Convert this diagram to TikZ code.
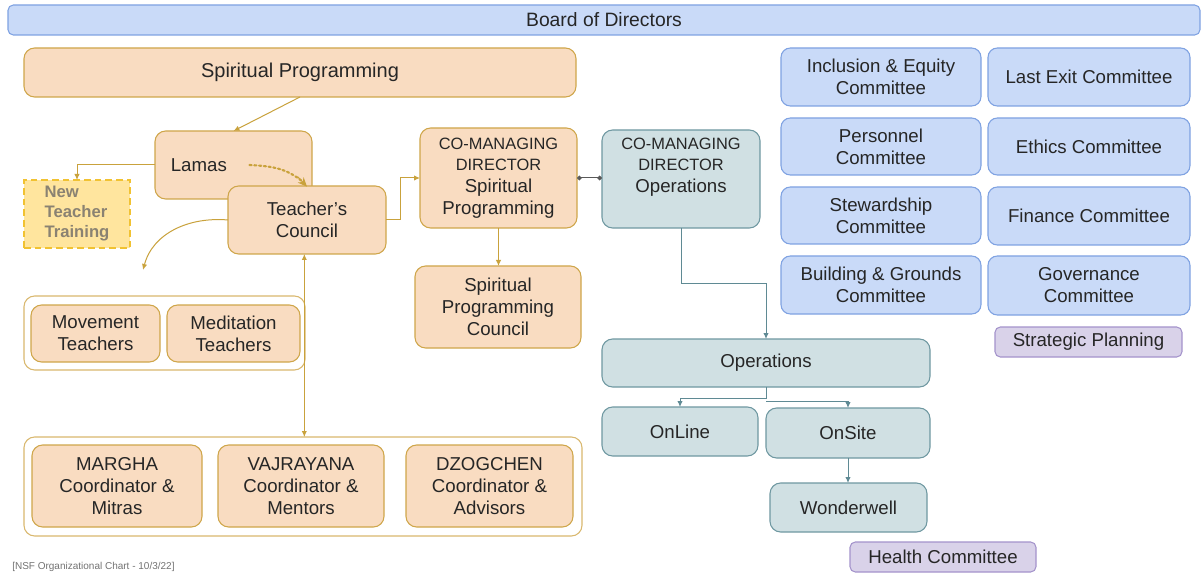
\documentclass[tikz,border=0pt]{standalone}
\usepackage{fontspec}
\setmainfont{Liberation Sans}
\usetikzlibrary{arrows.meta}
\definecolor{bluef}{HTML}{C9DAF8}
\definecolor{blued}{HTML}{7FA2E2}
\definecolor{peachf}{HTML}{F9DCC1}
\definecolor{peachd}{HTML}{CFA64A}
\definecolor{tealf}{HTML}{D0E0E3}
\definecolor{teald}{HTML}{6F98A1}
\definecolor{purpf}{HTML}{D9D2E9}
\definecolor{purpd}{HTML}{A493CB}
\definecolor{yelf}{HTML}{FFE59E}
\definecolor{yeld}{HTML}{F1C232}
\definecolor{ntttext}{HTML}{8A8272}
\definecolor{txt}{HTML}{262626}
\definecolor{gline}{HTML}{C9A23C}
\definecolor{tline}{HTML}{5F8A94}
\tikzset{
  base/.style={inner sep=0pt, outer sep=0pt, align=center, text=txt, line width=0.8pt,
     font=\fontsize{14}{16.5}\selectfont},
  bluebox/.style={base, fill=bluef, draw=blued, rounded corners=7pt},
  peachbox/.style={base, fill=peachf, draw=peachd, rounded corners=8pt},
  tealbox/.style={base, fill=tealf, draw=teald, rounded corners=8pt},
  purpbox/.style={base, fill=purpf, draw=purpd, rounded corners=4pt},
  groupbox/.style={base, fill=white, draw=peachd!80, rounded corners=8pt},
  ntt/.style={base, fill=yelf, draw=yeld, dashed, dash pattern=on 5pt off 3pt, line width=1.2pt,
     text=ntttext, align=left, font=\fontsize{12.5}{15}\selectfont\bfseries},
  plaintext/.style={inner sep=0pt, outer sep=0pt, align=center, text=txt},
  gcon/.style={draw=gline, line width=0.75pt},
  tcon/.style={draw=tline, line width=0.75pt},
  tipa/.style={-{Latex[length=4.5pt,width=4pt]}},
  dot/.style={{Circle[length=3.5pt]}-},
}
\newcommand\bx[7]{\node[#6, minimum width={(#4-#2)*0.75pt}, minimum height={(#5-#3)*0.75pt}] (#1) at ({(#2+#4)/2},{(#3+#5)/2}) {#7};}
\begin{document}
\begin{tikzpicture}[x=0.75pt,y=-0.75pt]
\fill[white] (0,0) rectangle (1204,574);
\useasboundingbox (0,0) rectangle (1204,574);
% Board
\bx{board}{8}{5}{1200}{35}{bluebox, rounded corners=4pt, font=\fontsize{14.5}{16}\selectfont}{Board of Directors}
% Spiritual programming side
\bx{sp}{24}{48}{576}{97}{peachbox, font=\fontsize{15}{17}\selectfont}{Spiritual Programming}
\bx{lamas}{155}{131}{312}{199}{peachbox}{Lamas\hspace*{52pt}}
\bx{tc}{228}{186}{386}{254}{peachbox}{Teacher's\\Council}
\bx{ntt}{24}{180}{130}{248}{ntt}{New\\Teacher\\Training}
\bx{g1}{24}{296}{305}{370}{groupbox}{}
\bx{mov}{31}{305}{160}{362}{peachbox}{Movement\\Teachers}
\bx{med}{167}{305}{300}{362}{peachbox}{Meditation\\Teachers}
\bx{g2}{24}{437}{582}{536}{groupbox}{}
\bx{margha}{32}{445}{202}{527}{peachbox}{MARGHA\\Coordinator \&\\Mitras}
\bx{vajra}{218}{445}{384}{527}{peachbox}{VAJRAYANA\\Coordinator \&\\Mentors}
\bx{dzog}{406}{445}{573}{527}{peachbox}{DZOGCHEN\\Coordinator \&\\Advisors}
\bx{comsp}{420}{128}{577}{228}{peachbox}{{\fontsize{12.3}{15}\selectfont CO-MANAGING}\\[-1pt]{\fontsize{12.3}{15}\selectfont DIRECTOR}\\Spiritual\\Programming}
\bx{spc}{415}{266}{581}{348}{peachbox}{Spiritual\\Programming\\Council}
% Operations side
\bx{comops}{602}{130}{760}{228}{tealbox}{}
\node[plaintext, font=\fontsize{14}{16.5}\selectfont] (comopsT) at (681,167) {{\fontsize{12.3}{15}\selectfont CO-MANAGING}\\[-1pt]{\fontsize{12.3}{15}\selectfont DIRECTOR}\\Operations};
\bx{ops}{602}{339}{930}{387}{tealbox}{Operations}
\bx{online}{602}{407}{758}{456}{tealbox}{OnLine}
\bx{onsite}{766}{408}{930}{458}{tealbox}{OnSite}
\bx{wonder}{770}{483}{927}{532}{tealbox}{Wonderwell}
\bx{health}{850}{542}{1036}{572}{purpbox}{Health Committee}
% Committees
\bx{incl}{781}{48}{981}{106}{bluebox}{Inclusion \& Equity\\Committee}
\bx{last}{988}{48}{1190}{106}{bluebox}{Last Exit Committee}
\bx{pers}{781}{118}{981}{175}{bluebox}{Personnel\\Committee}
\bx{eth}{988}{118}{1190}{175}{bluebox}{Ethics Committee}
\bx{stew}{781}{187}{981}{244}{bluebox}{Stewardship\\Committee}
\bx{fin}{988}{187}{1190}{245}{bluebox}{Finance Committee}
\bx{bld}{781}{256}{981}{314}{bluebox}{Building \& Grounds\\Committee}
\bx{gov}{988}{256}{1190}{315}{bluebox}{Governance\\Committee}
\bx{strat}{995}{327}{1182}{357}{purpbox}{Strategic Planning}
% footnote
\node[anchor=south west, inner sep=0pt, text=black!55, font=\fontsize{7.5}{9}\selectfont] (foot) at (12,572) {[NSF Organizational Chart - 10/3/22]};
% connectors (golden)
\draw[gcon, dot, tipa] (sp.south) -- (lamas.north);
\draw[gcon, tipa] (lamas.west) -| (ntt.north);
\draw[gcon, line width=1.6pt, dotted, line cap=round] ([xshift=12pt]lamas.center) to[out=-3,in=140] ([xshift=-3pt,yshift=3pt]tc.north);
\draw[gcon, -{Stealth[length=7pt,width=6pt]}] ([xshift=-7pt,yshift=7pt]tc.north) -- ([yshift=-0.5pt]tc.north);
\coordinate (tcfree) at (143,270);
\draw[gcon, dot, tipa] (tc.west) to[out=175,in=75] (tcfree);
\draw[gcon, dot, tipa] (tc.east) -- ++(14,0) |- (comsp.west);
\draw[gcon, {Latex[length=4.5pt,width=4pt]}-{Latex[length=4.5pt,width=4pt]}] ([xshift=-2pt]tc.south) -- ([xshift=-2pt]tc.south |- g2.north);
\draw[gcon, dot, tipa] (comsp.south) -- (comsp.south |- spc.north);
\draw[draw=black!65, line width=0.75pt, {Circle[length=3.5pt]}-{Circle[length=3.5pt]}] (comsp.east) -- (comsp.east -| comops.west);
% connectors (teal)
\draw[tcon, dot, tipa] (comops.south) -- ++(0,56) -| (ops.north);
\draw[tcon, dot, tipa] (ops.south) -- ++(0,11) -| (online.north);
\draw[tcon, tipa] ([yshift=-11]ops.south) -| (onsite.north);
\draw[tcon, tipa] (onsite.south) -- (onsite.south |- wonder.north);
\end{tikzpicture}
\end{document}
